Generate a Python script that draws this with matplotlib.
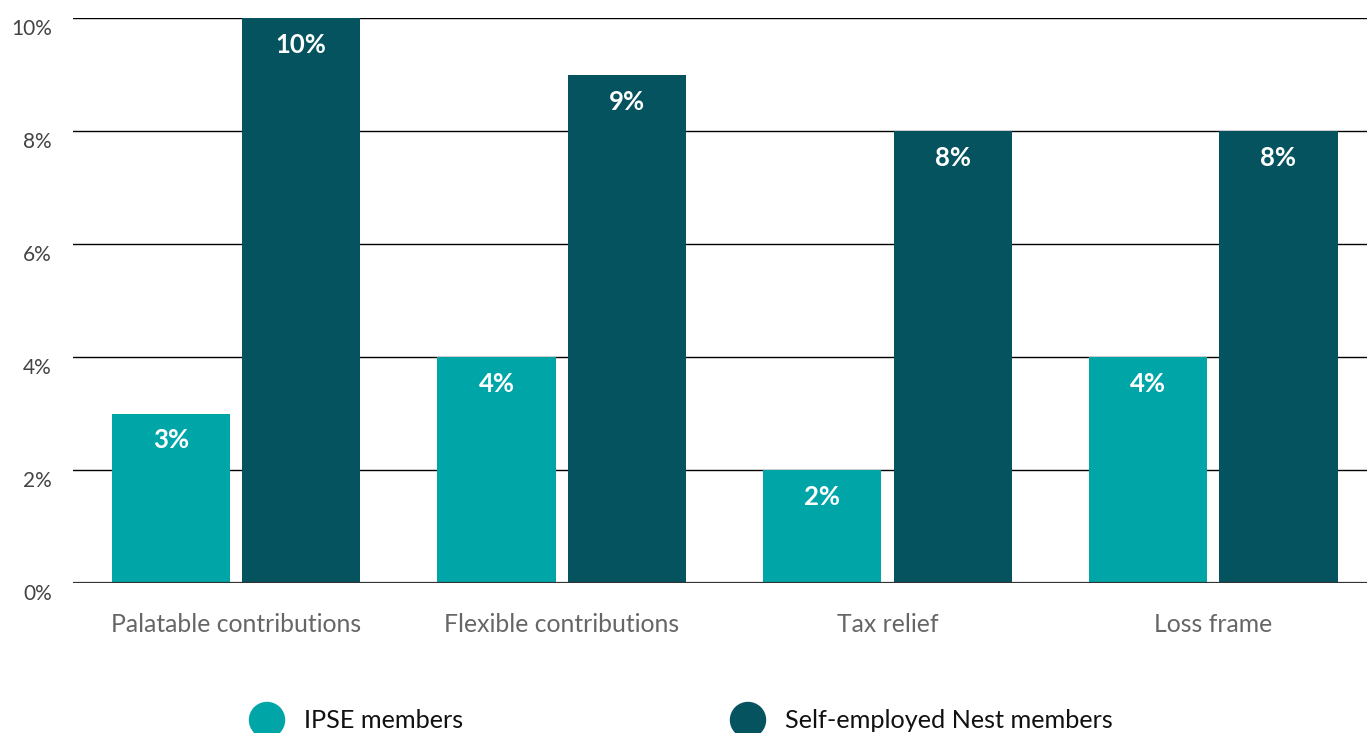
import matplotlib
matplotlib.use("Agg")
import matplotlib.pyplot as plt
from matplotlib.transforms import ScaledTranslation
import numpy as np

# ---------------- DATA ----------------
categories = ["Palatable contributions", "Flexible contributions", "Tax relief", "Loss frame"]
ipse = [3, 4, 2, 4]
nest = [10, 9, 8, 8]
series_names = ["IPSE members", "Self-employed Nest members"]
yticks = [0, 2, 4, 6, 8, 10]

IPSE_COLOR = "#00A5A8"
NEST_COLOR = "#04535E"

plt.rcParams["font.family"] = ["Lato", "DejaVu Sans"]

DPI = 100
fig = plt.figure(figsize=(13.67, 7.33), dpi=DPI)
ax = fig.add_axes([73 / 1367, 150 / 733, 1294 / 1367, 565 / 733])

x = np.arange(len(categories))
w = 0.363
off = 0.2
ax.bar(x - off, ipse, w, color=IPSE_COLOR, zorder=3)
ax.bar(x + off, nest, w, color=NEST_COLOR, zorder=3)

ax.set_xlim(-0.5, -0.5 + 1294 / 325.8)
ax.set_ylim(0, 10)

# gridlines
for t in yticks[1:]:
    ax.axhline(t, color="black", lw=1, zorder=1)
ax.axhline(0, color="#333333", lw=1.6, zorder=4)

for s in ax.spines.values():
    s.set_visible(False)
ax.set_xticks([])
ax.set_yticks([])

# y labels, sitting a little below their gridline
ytrans = ax.get_yaxis_transform() + ScaledTranslation(-21 / DPI, -11 / DPI, fig.dpi_scale_trans)
for t in yticks:
    ax.text(0, t, f"{t}%", transform=ytrans, ha="right", va="center",
            fontsize=15, color="#444444", clip_on=False)

# category labels
xtrans = ax.get_xaxis_transform() + ScaledTranslation(0, -41 / DPI, fig.dpi_scale_trans)
for i, c in enumerate(categories):
    ax.text(x[i], 0, c, transform=xtrans, ha="center", va="center",
            fontsize=17.8, color="#666666", clip_on=False)

# value labels inside bars
for xs, vals in [(x - off, ipse), (x + off, nest)]:
    for xi, v in zip(xs, vals):
        ax.annotate(f"{v}%", (xi, v), xytext=(0, -27 * 72 / DPI), textcoords="offset points",
                    ha="center", va="center", color="white", fontsize=18.5, fontweight="bold")

# legend at the bottom
for cx, col, name in [(267, IPSE_COLOR, series_names[0]), (748, NEST_COLOR, series_names[1])]:
    fig.patches.append(matplotlib.patches.Ellipse((cx / 1367, 1 - 720 / 733), 35 / 1367, 35 / 733,
                                                  transform=fig.transFigure, color=col))
    fig.text((cx + 37) / 1367, 1 - 721 / 733, name, ha="left", va="center",
             fontsize=18.2, color="#111111")

fig.savefig("out.png", dpi=DPI)
